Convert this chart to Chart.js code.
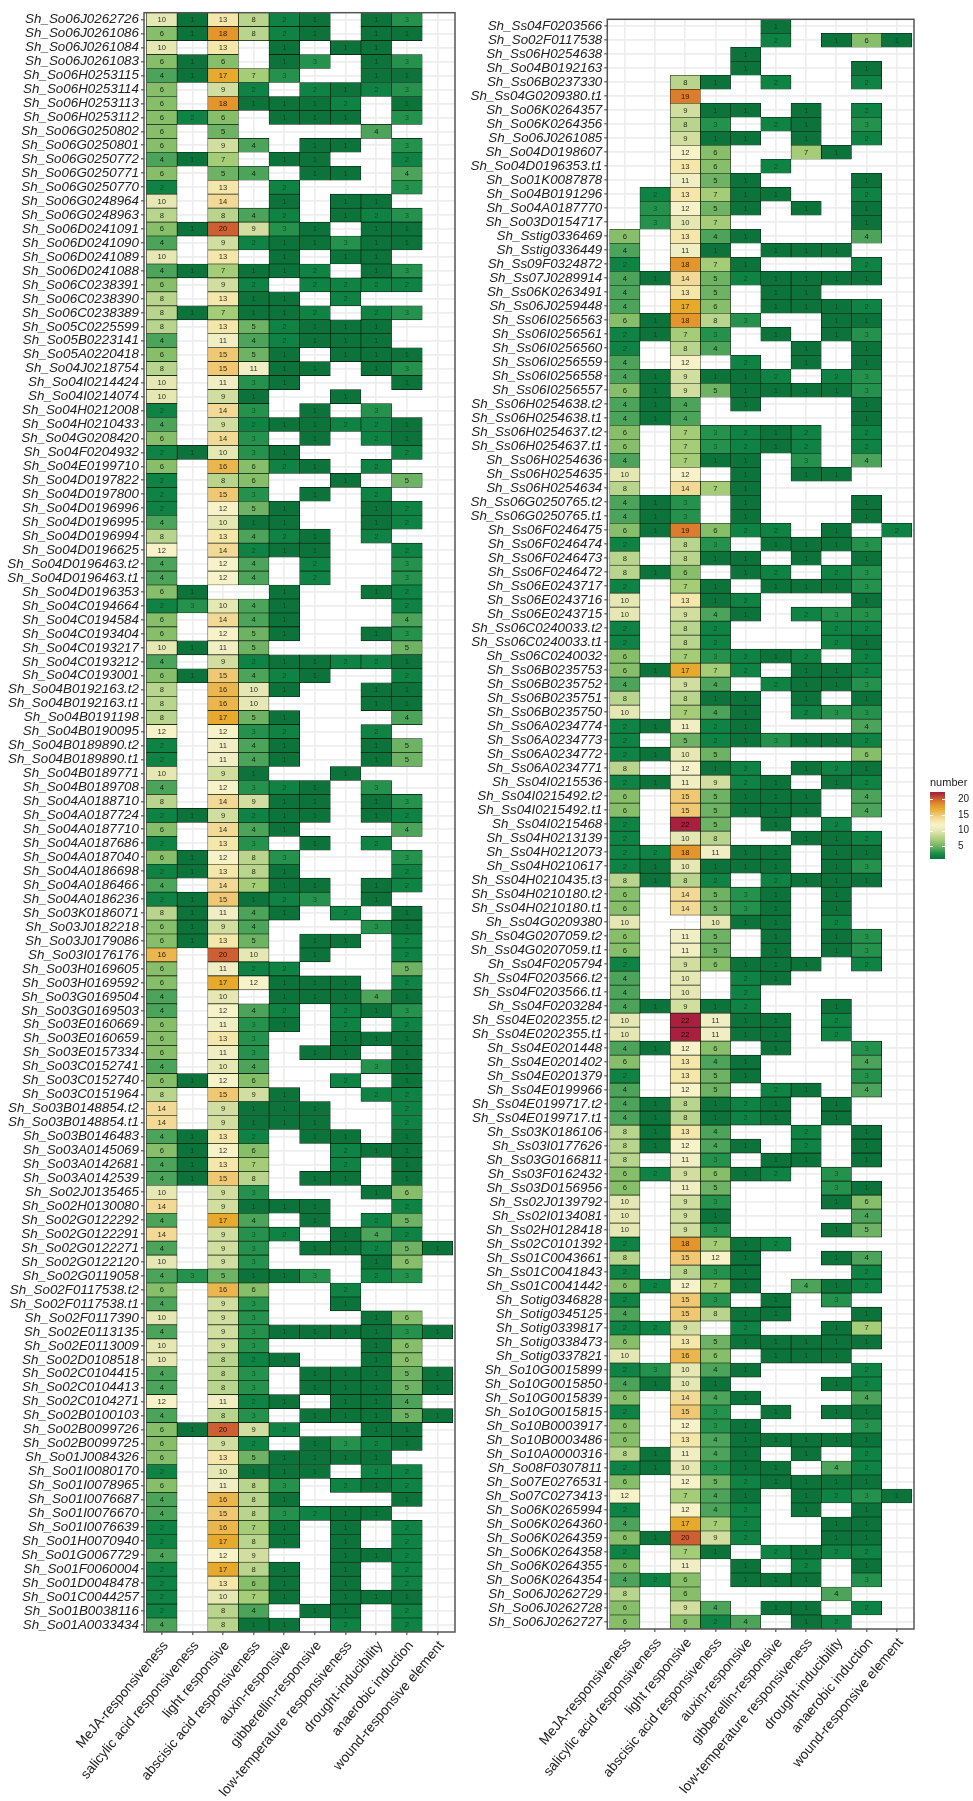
<!DOCTYPE html>
<html>
<head>
<meta charset="utf-8">
<script src="https://cdn.jsdelivr.net/npm/chart.js@4"></script>
<style>
html,body{margin:0;padding:0;background:#fff;}
canvas{position:absolute;display:block;}
</style>
</head>
<body>
<canvas id="left"></canvas>
<canvas id="right"></canvas>
<canvas id="legend"></canvas>
<script>
const elementTypes = ["MeJA-responsiveness","salicylic acid responsiveness","light responsive","abscisic acid responsiveness","auxin-responsive","gibberellin-responsive","low-temperature responsiveness","drought-inducibility","anaerobic induction","wound-responsive element"];

const leftGenes = ["So06J0262726","So06J0261086","So06J0261084","So06J0261083","So06H0253115","So06H0253114","So06H0253113","So06H0253112","So06G0250802","So06G0250801","So06G0250772","So06G0250771","So06G0250770","So06G0248964","So06G0248963","So06D0241091","So06D0241090","So06D0241089","So06D0241088","So06C0238391","So06C0238390","So06C0238389","So05C0225599","So05B0223141","So05A0220418","So04J0218754","So04I0214424","So04I0214074","So04H0212008","So04H0210433","So04G0208420","So04F0204932","So04E0199710","So04D0197822","So04D0197800","So04D0196996","So04D0196995","So04D0196994","So04D0196625","So04D0196463.t2","So04D0196463.t1","So04D0196353","So04C0194664","So04C0194584","So04C0193404","So04C0193217","So04C0193212","So04C0193001","So04B0192163.t2","So04B0192163.t1","So04B0191198","So04B0190095","So04B0189890.t2","So04B0189890.t1","So04B0189771","So04B0189708","So04A0188710","So04A0187724","So04A0187710","So04A0187686","So04A0187040","So04A0186698","So04A0186466","So04A0186236","So03K0186071","So03J0182218","So03J0179086","So03I0176176","So03H0169605","So03H0169592","So03G0169504","So03G0169503","So03E0160669","So03E0160659","So03E0157334","So03C0152741","So03C0152740","So03C0151964","So03B0148854.t2","So03B0148854.t1","So03B0146483","So03A0145069","So03A0142681","So03A0142539","So02J0135465","So02H0130080","So02G0122292","So02G0122291","So02G0122271","So02G0122120","So02G0119058","So02F0117538.t2","So02F0117538.t1","So02F0117390","So02E0113135","So02E0113009","So02D0108518","So02C0104415","So02C0104413","So02C0104271","So02B0100103","So02B0099726","So02B0099725","So01J0084326","So01I0080170","So01I0078965","So01I0076687","So01I0076670","So01I0076639","So01H0070940","So01G0067729","So01F0060004","So01D0048478","So01C0044257","So01B0038116","So01A0033434"];

const leftValues = [
[10,1,13,8,2,1,0,1,3,0],[6,1,18,8,2,1,0,1,1,0],[10,0,13,0,1,0,1,1,0,0],[6,1,6,0,1,3,0,1,3,0],[4,1,17,7,3,0,0,1,1,0],
[6,0,9,2,0,2,1,2,3,0],[6,0,18,1,1,1,2,0,1,0],[6,2,6,0,1,1,1,0,3,0],[6,0,5,0,0,0,0,4,0,0],[6,0,9,4,0,1,1,0,3,0],
[4,1,7,0,1,1,0,0,2,0],[6,0,5,4,0,1,1,0,4,0],[2,0,13,0,2,0,0,0,3,0],[10,0,14,0,1,0,1,1,0,0],[8,0,8,4,2,0,1,2,3,0],
[6,1,20,9,3,1,0,1,1,0],[4,0,9,2,1,1,3,1,1,0],[10,0,13,0,1,0,1,1,0,0],[4,1,7,1,1,2,0,1,3,0],[6,0,9,2,0,2,2,2,2,0],
[8,0,13,1,1,0,2,0,0,0],[8,1,7,1,1,2,0,2,3,0],[8,0,13,5,2,1,1,1,0,0],[4,0,11,4,2,1,1,1,0,0],[6,0,15,5,1,0,1,1,1,0],
[8,0,15,11,1,1,0,1,3,0],[10,0,11,3,1,0,0,0,1,0],[10,0,9,1,0,0,1,0,0,0],[2,0,14,3,0,1,0,3,0,0],[4,0,9,2,1,1,2,2,1,0],
[6,0,14,3,0,1,0,2,1,0],[2,1,10,3,1,0,0,0,2,0],[6,0,16,6,2,1,0,2,0,0],[2,0,8,6,0,0,1,0,5,0],[2,0,15,3,0,1,0,2,0,0],
[2,0,12,5,1,0,0,1,2,0],[4,0,10,1,1,0,0,1,2,0],[8,0,13,4,2,1,0,2,0,0],[12,0,14,2,1,1,0,0,2,0],[4,0,12,4,0,2,0,0,3,0],
[4,0,12,4,0,2,0,0,3,0],[6,1,0,0,1,0,0,1,2,0],[2,3,10,4,1,0,0,0,2,0],[6,0,14,4,1,0,0,0,4,0],[6,0,12,5,1,0,0,1,3,0],
[10,1,11,5,0,0,0,0,5,0],[4,0,9,2,1,1,2,2,1,0],[6,1,15,4,2,1,0,0,2,0],[8,0,16,10,1,0,0,1,1,0],[8,0,16,10,0,0,0,1,1,0],
[8,0,17,5,1,0,0,0,4,0],[12,0,12,3,2,0,0,2,0,0],[2,0,11,4,1,0,0,1,5,0],[2,0,11,4,1,0,0,1,5,0],[10,0,9,1,0,0,1,0,0,0],
[4,0,12,3,2,1,0,3,0,0],[8,0,14,9,1,1,0,1,3,0],[2,1,9,2,1,1,0,1,2,0],[6,0,14,4,1,0,0,0,4,0],[2,0,13,3,0,1,0,2,0,0],
[6,1,12,8,3,0,0,0,3,0],[2,1,13,8,1,0,0,0,2,0],[4,0,14,7,1,1,0,1,2,0],[2,1,15,1,2,3,0,1,0,0],[8,1,11,4,1,0,2,0,1,0],
[6,1,9,4,0,0,0,3,1,0],[6,1,13,5,0,1,1,0,2,0],[16,0,20,10,0,1,0,0,2,0],[6,0,11,2,2,0,0,0,5,0],[6,0,17,12,1,1,1,0,2,0],
[4,0,10,0,1,1,1,4,1,0],[4,0,12,4,2,0,2,1,3,0],[6,0,11,3,1,0,2,0,2,0],[6,0,13,3,0,0,1,1,1,0],[6,0,11,3,0,1,1,0,1,0],
[4,0,10,4,0,0,0,3,1,0],[6,1,12,6,0,0,2,0,1,0],[8,0,15,9,1,0,0,2,2,0],[14,0,9,1,1,1,0,0,2,0],[14,0,9,1,1,1,0,0,2,0],
[4,1,13,2,0,1,1,0,1,0],[6,1,12,6,0,0,2,1,1,0],[4,1,13,7,0,0,2,0,1,0],[4,1,15,8,0,1,1,0,1,0],[10,0,9,3,0,0,0,1,6,0],
[14,0,9,1,1,1,0,0,2,0],[4,0,17,4,0,1,0,2,5,0],[14,0,9,3,2,0,1,4,2,0],[4,0,9,3,0,1,1,2,5,1],[10,0,9,3,0,0,0,1,6,0],
[4,3,5,1,1,3,0,2,3,0],[6,0,16,6,0,0,2,0,0,0],[4,0,9,3,0,0,1,0,0,0],[10,0,9,3,0,0,0,1,6,0],[4,0,9,3,1,1,1,1,3,1],
[10,0,9,3,0,0,0,1,6,0],[10,0,8,2,1,0,0,1,6,0],[4,0,8,3,0,1,1,1,5,1],[4,0,8,3,0,1,1,1,5,1],[12,0,11,2,1,0,1,1,4,0],
[4,0,8,3,0,1,1,1,5,1],[6,1,20,9,2,0,0,1,1,0],[6,0,9,2,0,1,3,2,1,0],[6,0,13,5,1,1,1,1,0,0],[2,0,10,1,1,1,0,2,2,0],
[6,0,11,8,3,0,2,1,2,0],[4,0,16,8,1,0,0,0,1,0],[4,0,15,8,3,2,1,1,0,0],[2,0,16,7,1,0,1,0,2,0],[2,0,17,8,1,0,1,0,2,0],
[4,0,12,9,0,0,1,1,2,0],[2,0,17,8,1,0,1,0,2,0],[2,0,13,6,1,0,1,0,2,0],[2,0,10,7,1,0,1,1,1,0],[2,0,8,4,0,1,1,0,2,0],
[4,0,8,1,1,0,2,0,2,0]
];

const rightGenes = ["Ss04F0203566","So02F0117538","Ss06H0254638","So04B0192163","Ss06B0237330","Ss04G0209380.t1","So06K0264357","So06K0264356","So06J0261085","So04D0198607","So04D0196353.t1","So01K0087878","So04B0191296","So04A0187770","So03D0154717","Sstig0336469","Sstig0336449","Ss09F0324872","Ss07J0289914","Ss06K0263491","Ss06J0259448","Ss06I0256563","Ss06I0256561","Ss06I0256560","Ss06I0256559","Ss06I0256558","Ss06I0256557","Ss06H0254638.t2","Ss06H0254638.t1","Ss06H0254637.t2","Ss06H0254637.t1","Ss06H0254636","Ss06H0254635","Ss06H0254634","Ss06G0250765.t2","Ss06G0250765.t1","Ss06F0246475","Ss06F0246474","Ss06F0246473","Ss06F0246472","Ss06E0243717","Ss06E0243716","Ss06E0243715","Ss06C0240033.t2","Ss06C0240033.t1","Ss06C0240032","Ss06B0235753","Ss06B0235752","Ss06B0235751","Ss06B0235750","Ss06A0234774","Ss06A0234773","Ss06A0234772","Ss06A0234771","Ss04I0215536","Ss04I0215492.t2","Ss04I0215492.t1","Ss04I0215468","Ss04H0213139","Ss04H0212073","Ss04H0210617","Ss04H0210435.t3","Ss04H0210180.t2","Ss04H0210180.t1","Ss04G0209380","Ss04G0207059.t2","Ss04G0207059.t1","Ss04F0205794","Ss04F0203566.t2","Ss04F0203566.t1","Ss04F0203284","Ss04E0202355.t2","Ss04E0202355.t1","Ss04E0201448","Ss04E0201402","Ss04E0201379","Ss04E0199966","Ss04E0199717.t2","Ss04E0199717.t1","Ss03K0186106","Ss03I0177626","Ss03G0166811","Ss03F0162432","Ss03D0156956","Ss02J0139792","Ss02I0134081","Ss02H0128418","Ss02C0101392","Ss01C0043661","Ss01C0041843","Ss01C0041442","Sotig0346828","Sotig0345125","Sotig0339817","Sotig0338473","Sotig0337821","So10G0015899","So10G0015850","So10G0015839","So10G0015815","So10B0003917","So10B0003486","So10A0000316","So08F0307811","So07E0276531","So07C0273413","So06K0265994","So06K0264360","So06K0264359","So06K0264358","So06K0264355","So06K0264354","So06J0262729","So06J0262728","So06J0262727"];

const rightValues = [
[0,0,0,0,0,1,0,0,0,0],[0,0,0,0,0,2,0,1,6,1],[0,0,0,0,1,0,0,0,0,0],[0,0,0,0,1,0,0,0,1,0],[0,0,8,1,0,2,0,0,2,0],
[0,0,19,0,0,0,0,0,0,0],[0,0,9,1,1,0,1,0,2,0],[0,0,8,3,0,2,1,0,3,0],[0,0,9,1,1,0,1,0,2,0],[0,0,12,6,0,0,7,1,0,0],
[0,0,13,6,0,2,0,0,0,0],[0,0,11,5,1,0,0,0,1,0],[0,2,13,7,1,1,0,0,2,0],[0,3,12,5,1,0,1,0,1,0],[0,3,10,7,0,0,0,0,1,0],
[6,0,13,4,1,0,0,0,4,0],[4,0,11,1,0,1,1,1,0,0],[2,0,18,7,1,0,0,0,2,0],[4,1,14,5,2,1,1,1,1,0],[4,0,13,5,0,1,1,0,0,0],
[4,0,17,6,0,1,1,1,2,0],[6,1,18,8,3,0,0,1,1,0],[2,1,7,3,0,1,0,1,3,0],[2,0,8,4,0,0,1,0,1,0],[4,0,12,0,2,0,1,0,1,0],
[4,1,9,1,1,2,0,2,3,0],[6,1,9,5,1,1,1,1,3,0],[4,1,4,0,1,0,0,0,1,0],[4,1,4,0,0,0,0,0,1,0],[6,0,7,3,2,1,2,0,2,0],
[6,0,7,3,2,1,2,0,2,0],[4,0,7,1,1,0,3,0,4,0],[10,0,12,0,1,0,1,1,0,0],[8,0,14,7,1,0,0,0,0,0],[4,1,3,0,1,0,0,0,1,0],
[4,1,3,0,1,0,0,0,1,0],[6,1,19,6,2,2,0,1,0,2],[2,0,8,3,0,1,1,1,3,0],[8,0,8,1,1,0,1,0,1,0],[8,1,6,0,1,2,0,2,3,0],
[2,0,7,1,0,1,1,1,3,0],[10,0,13,1,2,0,0,0,1,0],[10,0,9,4,1,0,2,3,3,0],[2,0,8,2,0,0,0,2,2,0],[2,0,8,2,0,0,0,2,1,0],
[6,0,7,3,2,1,2,0,2,0],[6,1,17,7,2,0,1,1,2,0],[4,0,9,4,0,2,1,1,3,0],[8,0,8,1,1,0,1,0,1,0],[10,0,7,4,1,0,2,3,3,0],
[2,1,11,2,1,0,0,0,4,0],[2,0,5,2,1,3,1,1,2,0],[2,1,10,5,0,0,0,0,6,0],[8,0,12,1,2,0,1,2,1,0],[2,1,11,9,2,1,0,1,2,0],
[6,0,15,5,1,1,1,0,4,0],[6,0,15,5,1,1,1,0,4,0],[2,0,22,5,0,1,0,2,0,0],[2,0,10,8,0,0,1,1,2,0],[2,2,18,11,1,1,0,1,1,0],
[2,1,10,1,1,1,0,1,3,0],[8,1,8,2,0,2,1,1,1,0],[6,0,14,5,3,1,0,1,0,0],[6,0,14,5,3,1,0,1,0,0],[10,0,0,10,1,1,0,2,0,0],
[6,0,11,5,0,1,0,1,3,0],[6,0,11,5,0,1,0,1,3,0],[2,0,9,6,1,1,1,0,2,0],[4,0,10,0,2,1,0,0,0,0],[4,0,10,0,2,0,0,0,0,0],
[4,1,9,1,2,0,0,1,0,0],[10,0,22,11,1,1,0,2,0,0],[10,0,22,11,1,1,0,2,0,0],[4,1,12,6,0,1,0,0,3,0],[6,0,13,4,1,0,0,0,4,0],
[2,0,13,5,1,0,0,0,3,0],[4,0,12,5,0,2,1,0,4,0],[4,1,8,1,2,1,0,1,0,0],[4,1,8,1,2,1,0,1,0,0],[8,1,13,4,0,0,2,0,1,0],
[8,1,12,4,1,0,2,0,1,0],[8,0,11,3,0,1,1,0,1,0],[6,2,9,6,1,2,0,3,0,0],[6,0,11,5,0,0,0,3,1,0],[10,0,9,3,0,0,0,1,6,0],
[10,0,9,1,0,0,0,0,4,0],[10,0,9,3,0,0,0,1,5,0],[2,0,18,7,1,2,0,0,0,0],[8,0,15,12,1,0,0,1,4,0],[2,0,8,3,1,0,0,0,2,0],
[6,2,12,7,1,0,4,1,2,0],[2,0,15,3,0,1,0,3,0,0],[4,0,15,8,1,1,0,0,1,0],[2,2,9,0,2,0,0,1,7,0],[6,0,13,5,1,1,1,1,1,0],
[10,0,16,6,0,1,1,1,0,0],[2,3,10,4,1,0,0,0,2,0],[4,1,10,1,0,0,0,1,2,0],[6,0,14,4,1,0,0,0,4,0],[2,0,15,3,0,1,0,1,1,0],
[6,0,12,3,1,0,0,0,3,0],[6,0,13,4,1,1,1,1,1,0],[8,1,11,4,1,0,1,0,2,0],[2,1,10,3,1,1,0,4,2,0],[6,0,12,5,2,1,1,1,1,0],
[12,0,7,4,1,0,1,2,3,1],[2,0,12,4,2,0,1,0,1,0],[4,0,17,7,2,0,0,1,1,0],[6,1,20,9,2,0,0,1,1,0],[2,0,7,1,0,2,1,2,2,0],
[6,0,11,0,1,0,2,0,1,0],[4,2,6,0,1,1,1,0,3,0],[8,0,6,0,0,0,0,4,0,0],[6,0,9,4,0,1,1,0,2,0],[6,0,6,2,4,0,1,2,0,0]
];

const legendTitle = "number";
const legendRange = [1, 22.2];
const legendTicks = [5, 10, 15, 20];

// colour ramp of the fill scale, one stop per value from 1 to 22
const ramp = [[12,116,58],[15,131,67],[36,145,76],[76,163,90],[110,178,100],[135,190,105],[165,205,120],[185,212,140],[210,222,160],[230,232,180],[241,238,195],[247,242,200],[245,230,170],[243,217,150],[240,200,115],[236,182,78],[232,170,45],[228,150,45],[220,125,45],[205,95,50],[182,60,52],[168,32,62]];
function colorFor(v){
  const t = Math.max(0, Math.min(ramp.length-1, v-1));
  const i = Math.floor(t), f = t-i, a = ramp[i], b = ramp[Math.min(i+1, ramp.length-1)];
  return `rgb(${a.map((c,k)=>Math.round(c+(b[k]-c)*f)).join(',')})`;
}

const FONT = '"Liberation Sans", Arial, sans-serif';

const cellLabels = {
  id:'cellLabels',
  afterDatasetsDraw(chart, args, opts){
    const {ctx, scales:{x,y}, chartArea:a} = chart;
    ctx.save();
    ctx.font = `7.6px ${FONT}`;
    ctx.textAlign='center'; ctx.textBaseline='middle';
    opts.values.forEach((row,r)=>row.forEach((v,c)=>{
      if(!v) return;
      ctx.fillStyle = v<=3 ? 'rgba(0,0,0,.42)' : 'rgba(0,0,0,.82)';
      ctx.fillText(String(v), x.getPixelForValue(c), y.getPixelForValue(r)+0.3);
    }));
    ctx.strokeStyle='#555'; ctx.lineWidth=1.5;
    ctx.strokeRect(a.left,a.top,a.width,a.height);
    ctx.restore();
  }
};

function panel(id, genes, values, box){
  const canvas = document.getElementById(id);
  canvas.style.left = box.left+'px'; canvas.style.top='0px';
  canvas.width = box.width; canvas.height = 1801;
  canvas.style.width = box.width+'px'; canvas.style.height='1801px';
  const datasets = elementTypes.map((name,c)=>({
    label:name,
    data: values.map(row=> row[c] ? [c-0.5,c+0.5] : null),
    backgroundColor: values.map(row=> row[c] ? colorFor(row[c]) : 'transparent'),
    borderColor:'#0a1a0e', borderWidth:0.65, borderSkipped:false,
    barPercentage:1, categoryPercentage:1, grouped:false
  }));
  return new Chart(canvas,{
    type:'bar',
    data:{labels:genes.map(g=>'Sh_'+g), datasets},
    plugins:[cellLabels],
    options:{
      indexAxis:'y', responsive:false, animation:false, devicePixelRatio:1,
      layout:{padding:{top:box.top,right:1,left:0,bottom:0}},
      plugins:{legend:{display:false},tooltip:{enabled:false},cellLabels:{values}},
      scales:{
        x:{type:'linear',min:-0.58,max:9.57,position:'bottom',
          afterBuildTicks(s){s.ticks=elementTypes.map((_,i)=>({value:i}));},
          afterFit(s){s.height=1801-box.bottom;},
          grid:{color:'#eeeeee',lineWidth:1.7,tickLength:3,tickColor:'#333',tickWidth:1},
          border:{display:false},
          ticks:{autoSkip:false,minRotation:50,maxRotation:50,padding:3,labelOffset:4,color:'#222',
            font:{family:FONT,size:13.7},callback:v=>elementTypes[v]}
        },
        y:{type:'category',offset:true,
          afterFit(s){s.width=box.axis;},
          grid:{offset:false,color:'#eeeeee',lineWidth:1.7,tickLength:3,tickColor:'#333',tickWidth:1},
          border:{display:false},
          ticks:{autoSkip:false,padding:2,color:'#222',font:{family:FONT,size:13.4,style:'italic'}}
        }
      }
    }
  });
}

panel('left', leftGenes, leftValues, {left:0,width:456,axis:144,top:12.7,bottom:1632});
panel('right', rightGenes, rightValues, {left:470,width:445,axis:137.3,top:19.3,bottom:1629});

// colour bar
const legendCanvas = document.getElementById('legend');
legendCanvas.style.left='925px'; legendCanvas.style.top='770px';
legendCanvas.width=48; legendCanvas.height=100;
legendCanvas.style.width='48px'; legendCanvas.style.height='100px';
const legendDecor = {
  id:'legendDecor',
  afterDatasetsDraw(chart){
    const {ctx,chartArea:a,scales:{y}} = chart;
    ctx.save();
    ctx.strokeStyle='#fff'; ctx.lineWidth=1;
    legendTicks.forEach(t=>{
      const p=Math.round(y.getPixelForValue(t))+.5;
      ctx.beginPath();ctx.moveTo(a.left,p);ctx.lineTo(a.left+3,p);ctx.moveTo(a.right-3,p);ctx.lineTo(a.right,p);ctx.stroke();
    });
    ctx.fillStyle='#222'; ctx.font=`11px ${FONT}`; ctx.textAlign='left'; ctx.textBaseline='middle';
    ctx.fillText(legendTitle,a.left,a.top-9);
    ctx.restore();
  }
};
new Chart(legendCanvas,{
  type:'bar',
  data:{labels:[legendTitle],datasets:[{
    data:[legendRange],
    backgroundColor(ctx){
      const {chartArea} = ctx.chart;
      if(!chartArea) return '#888';
      const g = ctx.chart.ctx.createLinearGradient(0,chartArea.bottom,0,chartArea.top);
      const n = legendRange[1]-legendRange[0];
      ramp.forEach((c,i)=>{const t=Math.min(1,i/n); g.addColorStop(t,`rgb(${c.join(',')})`);});
      return g;
    },
    borderWidth:0,barPercentage:1,categoryPercentage:1
  }]},
  plugins:[legendDecor],
  options:{
    responsive:false,animation:false,devicePixelRatio:1,
    layout:{padding:{top:22,left:5,right:0,bottom:0}},
    plugins:{legend:{display:false},tooltip:{enabled:false}},
    scales:{
      x:{display:false,offset:true},
      y:{type:'linear',position:'right',min:legendRange[0],max:legendRange[1],
        afterBuildTicks(s){s.ticks=legendTicks.map(v=>({value:v}));},
        afterFit(s){s.width=28;},
        grid:{display:false},border:{display:false},
        ticks:{padding:5,color:'#222',font:{family:FONT,size:10}}
      }
    }
  }
});
</script>
</body>
</html>
